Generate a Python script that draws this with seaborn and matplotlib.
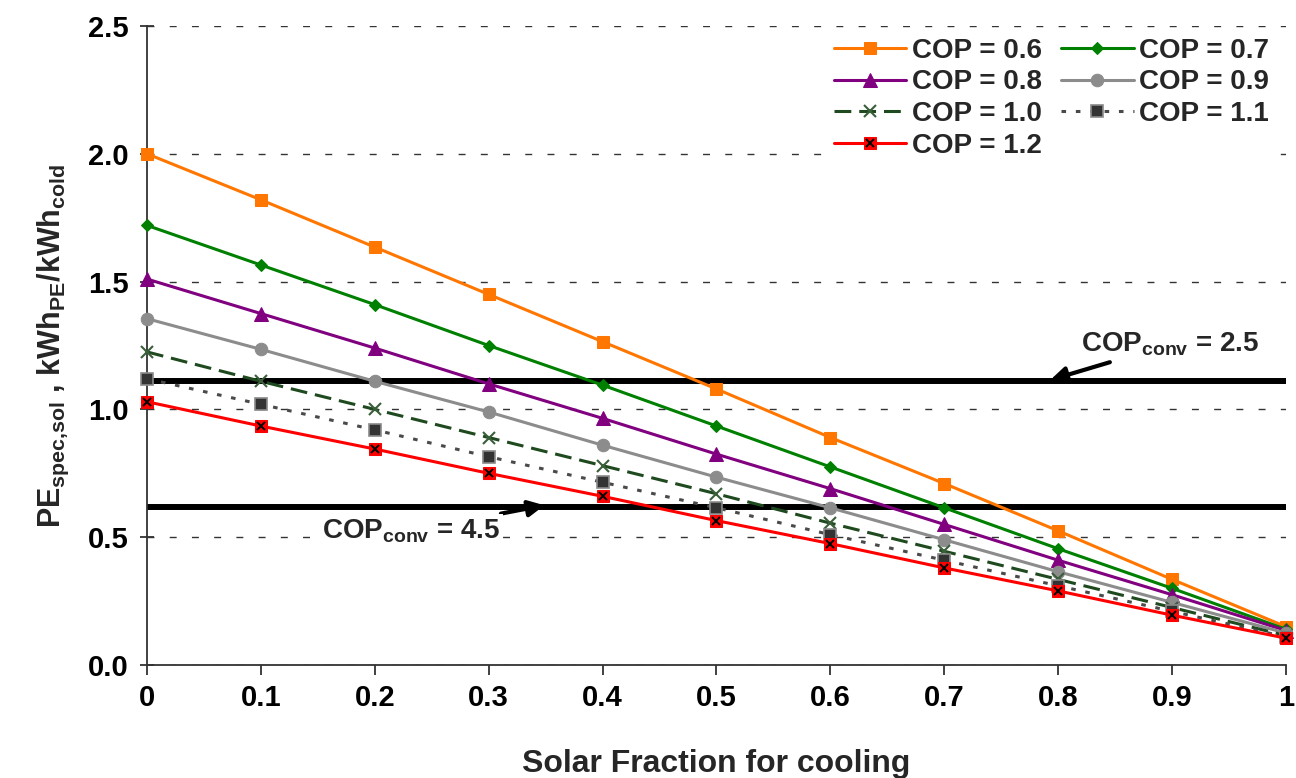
import matplotlib
matplotlib.use("Agg")
import matplotlib.pyplot as plt
import pandas as pd
import seaborn as sns

# Style
sns.set_style("ticks")
plt.rcParams["font.family"] = ["Liberation Sans", "DejaVu Sans"]
plt.rcParams["font.weight"] = "bold"
plt.rcParams["mathtext.fontset"] = "custom"
plt.rcParams["mathtext.rm"] = "Liberation Sans"
plt.rcParams["mathtext.bf"] = "Liberation Sans:bold"

# Data
solar_fraction = [0.0, 0.1, 0.2, 0.3, 0.4, 0.5, 0.6, 0.7, 0.8, 0.9, 1.0]
pe_cop_06 = [2.00, 1.82, 1.635, 1.45, 1.265, 1.08, 0.89, 0.71, 0.525, 0.335, 0.15]
pe_cop_07 = [1.72, 1.565, 1.41, 1.25, 1.095, 0.935, 0.775, 0.615, 0.455, 0.30, 0.14]
pe_cop_08 = [1.51, 1.375, 1.24, 1.10, 0.965, 0.825, 0.69, 0.55, 0.41, 0.275, 0.135]
pe_cop_09 = [1.355, 1.235, 1.11, 0.99, 0.86, 0.735, 0.615, 0.49, 0.365, 0.245, 0.125]
pe_cop_10 = [1.225, 1.11, 1.00, 0.89, 0.78, 0.67, 0.555, 0.445, 0.335, 0.225, 0.115]
pe_cop_11 = [1.12, 1.02, 0.92, 0.815, 0.715, 0.615, 0.51, 0.41, 0.31, 0.21, 0.11]
pe_cop_12 = [1.03, 0.935, 0.845, 0.75, 0.66, 0.565, 0.475, 0.38, 0.29, 0.195, 0.105]
conv_levels = [1.11, 0.62]  # COP_conv = 2.5 and 4.5
x_tick_labels = ["0", "0.1", "0.2", "0.3", "0.4", "0.5", "0.6", "0.7", "0.8", "0.9", "1"]

fig = plt.figure(figsize=(12.96, 7.78), dpi=100)
ax = fig.add_axes([0.1134, 0.1452, 0.8789, 0.8214])

# Reference lines for conventional chillers
for lvl in conv_levels:
    ax.axhline(lvl, color="black", linewidth=4.3, zorder=1.5, solid_capstyle="butt")

series = [
    ("COP = 0.6", pe_cop_06, dict(color="#FF7700", marker="s", markersize=9,
                                  linestyle="-", markeredgecolor="#FF7700")),
    ("COP = 0.7", pe_cop_07, dict(color="#008000", marker="D", markersize=6.5,
                                  linestyle="-", markeredgecolor="#008000")),
    ("COP = 0.8", pe_cop_08, dict(color="#800080", marker="^", markersize=10,
                                  linestyle="-", markeredgecolor="#800080")),
    ("COP = 0.9", pe_cop_09, dict(color="#8C8C8C", marker="o", markersize=9,
                                  linestyle="-", markeredgecolor="#8C8C8C")),
    ("COP = 1.0", pe_cop_10, dict(color="#1F4A1F", marker="x", markersize=9,
                                  linestyle=(0, (5.5, 2.6)), markeredgecolor="#3A5E3A",
                                  markeredgewidth=1.5)),
    ("COP = 1.1", pe_cop_11, dict(color="#4A4A4A", marker="s", markersize=9,
                                  linestyle=(0, (1.5, 3.2)), markerfacecolor="#333333",
                                  markeredgecolor="#8A8A8A", markeredgewidth=1.2)),
    ("COP = 1.2", pe_cop_12, dict(color="#FF0000", marker="s", markersize=8,
                                  linestyle="-", markeredgecolor="#FF0000")),
]

handles = {}
for label, vals, kw in series:
    sns.lineplot(x=solar_fraction, y=vals, ax=ax, linewidth=2.2, clip_on=False,
                 zorder=3, **kw)
    handles[label] = ax.lines[-1]

# black cross inside the red squares
sns.lineplot(x=solar_fraction, y=pe_cop_12, ax=ax, linestyle="none", marker="x",
             color="black", markeredgecolor="black", markersize=6,
             markeredgewidth=1.4, clip_on=False, zorder=4)
handles["COP = 1.2"] = (handles["COP = 1.2"], ax.lines[-1])

order = ["COP = 0.6", "COP = 0.8", "COP = 1.0", "COP = 1.2",
         "COP = 0.7", "COP = 0.9", "COP = 1.1"]
leg = ax.legend([handles[k] for k in order], order, ncol=2, loc="upper right",
                bbox_to_anchor=(0.99, 0.99), borderaxespad=0, fontsize=20,
                frameon=True, facecolor="white", edgecolor="none", framealpha=1,
                handlelength=2.6, handletextpad=0.2, columnspacing=0.7,
                labelspacing=0.2, borderpad=0.2)
leg.set_zorder(5)

# Annotations
ax.annotate(r"COP$_{\mathrm{conv}}$ = 2.5", xy=(0.793, 1.115), xytext=(0.82, 1.255),
            fontsize=20, fontweight="bold", ha="left", va="center",
            arrowprops=dict(arrowstyle="-|>", color="black", lw=3,
                            mutation_scale=24, shrinkA=2, shrinkB=0), zorder=6)
ax.annotate(r"COP$_{\mathrm{conv}}$ = 4.5", xy=(0.349, 0.625), xytext=(0.232, 0.525),
            fontsize=20, fontweight="bold", ha="center", va="center",
            bbox=dict(boxstyle="square,pad=0.1", fc="white", ec="none"),
            arrowprops=dict(arrowstyle="-|>", color="black", lw=3,
                            mutation_scale=24, shrinkA=2, shrinkB=0), zorder=6)

# Axes
ax.set_xlim(0, 1)
ax.set_ylim(0, 2.5)
ax.set_xticks(solar_fraction)
ax.set_xticklabels(x_tick_labels)
ax.set_yticks([0.0, 0.5, 1.0, 1.5, 2.0, 2.5])
ax.set_yticklabels(["0.0", "0.5", "1.0", "1.5", "2.0", "2.5"])
ax.tick_params(axis="x", direction="out", length=7, width=1.3, pad=7,
               labelsize=21, colors="#333333", labelcolor="black")
ax.tick_params(axis="y", direction="inout", length=10, width=1.3, pad=8,
               labelsize=21, colors="#333333", labelcolor="black")
ax.yaxis.grid(True, linestyle=(0, (5, 11)), color="#333333", linewidth=1.0)
ax.xaxis.grid(False)
sns.despine(ax=ax)
for side in ["left", "bottom"]:
    ax.spines[side].set_linewidth(1.3)
    ax.spines[side].set_color("#333333")

ax.set_xlabel("Solar Fraction for cooling", fontsize=23, fontweight="bold", labelpad=26)
ax.set_ylabel(r"PE$_{\mathrm{spec{,}sol}}$ , kWh$_{\mathrm{PE}}$/kWh$_{\mathrm{cold}}$",
              fontsize=22, fontweight="bold", labelpad=12)

fig.savefig("out.png", dpi=100)
